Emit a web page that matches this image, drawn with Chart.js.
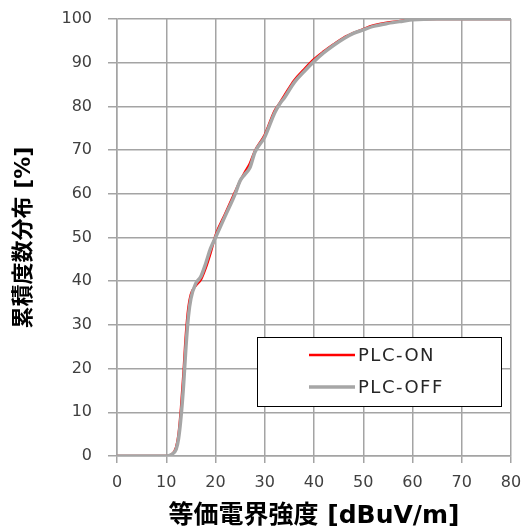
<!DOCTYPE html>
<html>
<head>
<meta charset="utf-8">
<script src="https://cdn.jsdelivr.net/npm/chart.js@4.4.1/dist/chart.umd.min.js"></script>
<style>
  html, body { margin: 0; padding: 0; background: #fff; }
  #wrap { width: 525px; height: 531px; position: relative; }
</style>
</head>
<body>
<div id="wrap"><canvas id="chart-cdf"></canvas></div>
<script>
// Cumulative distribution of field strength, PLC on vs off

const fieldStrength = [0, 10, 11, 12, 12.5, 13, 13.5, 14, 14.5, 15, 16, 17, 18, 19, 20, 22, 24, 25, 26, 27,
  28, 30, 32, 33, 34, 36, 38, 40, 42, 44, 46, 48, 50, 52, 55, 58, 60, 65, 70, 80];

const plcOn = [0, 0, 0.3, 2, 5, 11, 19, 28, 34, 37, 39, 40.3, 43, 46.5, 50.5, 55.5, 60.5, 63, 65, 67,
  69.8, 73.5, 79, 80.7, 82.5, 86, 88.5, 90.8, 92.6, 94.2, 95.7, 96.8, 97.7, 98.5, 99.2, 99.6, 99.9, 100, 100, 100];

const plcOff = [0, 0, 0.3, 1.5, 4, 9, 16, 25, 32, 36, 39.5, 41, 44, 47.5, 50, 55, 60, 63, 64.5, 66,
  69.5, 73, 78.5, 80.5, 82, 85.5, 88, 90.3, 92.3, 94, 95.5, 96.7, 97.5, 98.3, 99, 99.5, 99.8, 100, 100, 100];

const seriesLabels = ['PLC-ON', 'PLC-OFF'];
const xTitle = '等価電界強度 [dBuV/m]';
const yTitle = '累積度数分布 [%]';

const FONT = "'DejaVu Sans', 'Noto Sans CJK JP', sans-serif";
const GRID = '#a4a4a4';

const toPoints = ys => ys.map((y, i) => ({ x: fieldStrength[i], y }));

// legend drawn as a framed box inside the plot, like the spreadsheet original
const boxLegend = {
  id: 'boxLegend',
  afterDatasetsDraw(chart) {
    const { ctx, chartArea } = chart;
    const left = chartArea.left + 140;
    const top = chartArea.top + 318;
    const w = 244, h = 69;
    ctx.save();
    ctx.fillStyle = '#fff';
    ctx.fillRect(left, top, w, h);
    ctx.strokeStyle = '#000';
    ctx.lineWidth = 1;
    ctx.strokeRect(Math.round(left) + 0.5, Math.round(top) + 0.5, w, h);
    ctx.font = '18px ' + FONT;
    ctx.letterSpacing = '1.5px';
    ctx.textBaseline = 'middle';
    ctx.fillStyle = '#262626';
    chart.data.datasets.forEach((ds, i) => {
      const y = top + 18 + i * 32;
      ctx.strokeStyle = ds.borderColor;
      ctx.lineWidth = ds.borderWidth;
      ctx.beginPath();
      ctx.moveTo(left + 52, y);
      ctx.lineTo(left + 98, y);
      ctx.stroke();
      ctx.fillText(ds.label, left + 101, y + 1);
    });
    ctx.restore();
  }
};

new Chart(document.getElementById('chart-cdf').getContext('2d'), {
  type: 'line',
  data: {
    datasets: [
      { label: seriesLabels[0], data: toPoints(plcOn), borderColor: '#ff0000', borderWidth: 2.5, order: 2 },
      { label: seriesLabels[1], data: toPoints(plcOff), borderColor: '#a6a6a6', borderWidth: 3.5, order: 1 }
    ]
  },
  options: {
    responsive: true,
    maintainAspectRatio: false,
    animation: false,
    elements: {
      point: { radius: 0 },
      line: { cubicInterpolationMode: 'monotone' }
    },
    layout: { padding: { top: 19, right: 14, bottom: 0, left: 0 } },
    plugins: {
      legend: { display: false },
      tooltip: { enabled: false }
    },
    scales: {
      x: {
        type: 'linear',
        min: 0,
        max: 80,
        afterFit: s => { s.height = 75; s.paddingLeft = 0; s.paddingRight = 0; },
        ticks: { stepSize: 10, color: '#404040', font: { family: FONT, size: 16 }, padding: 10, maxRotation: 0 },
        grid: { color: GRID, lineWidth: 1.5, tickLength: 7, tickColor: GRID },
        border: { color: GRID, width: 1.5 },
        title: { display: true, text: xTitle, color: '#000', font: { family: FONT, size: 25, weight: 'bold' }, padding: { top: 0, bottom: 0 } }
      },
      y: {
        min: 0,
        max: 100,
        afterFit: s => { s.width = 117; s.paddingTop = 0; s.paddingBottom = 0; },
        ticks: { stepSize: 10, color: '#404040', font: { family: FONT, size: 16 }, padding: 16 },
        grid: { color: GRID, lineWidth: 1.5, tickLength: 9, tickColor: GRID },
        border: { color: GRID, width: 1.5 },
        title: { display: true, text: yTitle, color: '#000', font: { family: FONT, size: 22, weight: 'bold' }, padding: { top: 11, bottom: 0 } }
      }
    }
  },
  plugins: [boxLegend]
});
</script>
</body>
</html>
